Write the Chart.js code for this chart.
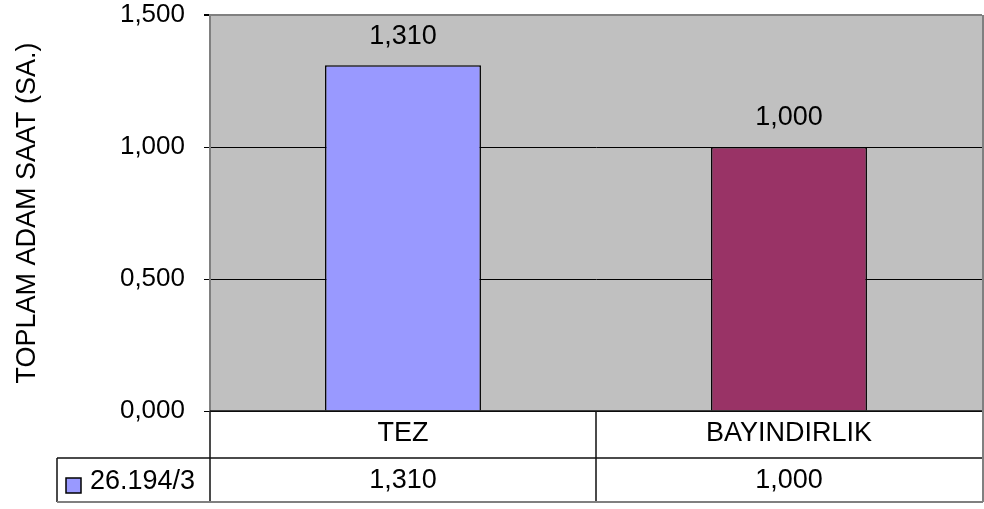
<!DOCTYPE html>
<html>
<head>
<meta charset="utf-8">
<script src="https://cdn.jsdelivr.net/npm/chart.js@4"></script>
<style>
  html, body { margin: 0; padding: 0; background: #ffffff; }
  canvas { display: block; }
</style>
</head>
<body>
<canvas id="c" width="984" height="509"></canvas>
<script>
// Categories and values
const categories = ['TEZ', 'BAYINDIRLIK'];
const seriesName = '26.194/3';
const hours = [1.31, 1.0];
const barColors = ['#9999FF', '#993366'];
const yTicks = [0, 0.5, 1.0, 1.5];
const yTitle = 'TOPLAM ADAM SAAT (SA.)';

const FONT = '"Liberation Sans", Arial, sans-serif';
const TEXT_SIZE = 27;
const fmt = v => v.toFixed(3).replace('.', ',');

// Value labels above bars
const valueLabels = {
  id: 'valueLabels',
  afterDatasetsDraw(chart) {
    const ctx = chart.ctx;
    const meta = chart.getDatasetMeta(0);
    ctx.save();
    ctx.font = TEXT_SIZE + 'px ' + FONT;
    ctx.fillStyle = '#000';
    ctx.textAlign = 'center';
    ctx.textBaseline = 'middle';
    meta.data.forEach((bar, i) => {
      ctx.fillText(fmt(hours[i]), bar.x, bar.y - 29);
    });
    ctx.restore();
  }
};

// Plot frame and data table below the chart area
const dataTable = {
  id: 'dataTable',
  beforeDatasetsDraw(chart) {
    const { ctx, chartArea: a } = chart;
    ctx.save();
    ctx.strokeStyle = '#808080';
    ctx.lineWidth = 2;
    ctx.beginPath();
    ctx.moveTo(a.right + 1, a.top);
    ctx.lineTo(a.right + 1, a.bottom);
    ctx.stroke();
    ctx.restore();
  },
  afterDraw(chart) {
    const { ctx, chartArea: a, scales } = chart;
    const x = scales.x;
    const row1Top = a.bottom, row1Bot = a.bottom + 47, row2Bot = a.bottom + 91;
    const legendLeft = 57;
    const colW = (a.right - a.left) / categories.length;
    ctx.save();
    ctx.lineWidth = 1.5;
    ctx.strokeStyle = '#111';
    ctx.beginPath();
    ctx.moveTo(a.left, row1Top); ctx.lineTo(a.right, row1Top);
    ctx.moveTo(legendLeft, row1Bot); ctx.lineTo(a.right, row1Bot);
    ctx.moveTo(a.left, row1Top); ctx.lineTo(a.left, row2Bot);
    ctx.moveTo(legendLeft, row1Bot); ctx.lineTo(legendLeft, row2Bot);
    for (let i = 1; i < categories.length; i++) {
      const xx = a.left + colW * i;
      ctx.moveTo(xx, row1Top); ctx.lineTo(xx, row2Bot);
    }
    ctx.stroke();
    ctx.strokeStyle = '#808080';
    ctx.lineWidth = 2;
    ctx.beginPath();
    ctx.moveTo(legendLeft, row2Bot); ctx.lineTo(a.right + 1, row2Bot);
    ctx.moveTo(a.right + 1, row1Top); ctx.lineTo(a.right + 1, row2Bot);
    ctx.stroke();

    ctx.font = TEXT_SIZE + 'px ' + FONT;
    ctx.fillStyle = '#000';
    ctx.textAlign = 'center';
    ctx.textBaseline = 'middle';
    categories.forEach((c, i) => {
      const cx = x.getPixelForValue(i);
      ctx.fillText(c, cx, (row1Top + row1Bot) / 2 - 1);
      ctx.fillText(fmt(hours[i]), cx, (row1Bot + row2Bot) / 2 + 1);
    });
    // legend key
    const ky = (row1Bot + row2Bot) / 2;
    ctx.fillStyle = barColors[0];
    ctx.fillRect(66, ky - 2, 15, 15);
    ctx.strokeStyle = '#000';
    ctx.lineWidth = 1.5;
    ctx.strokeRect(66, ky - 2, 15, 15);
    ctx.fillStyle = '#000';
    ctx.textAlign = 'left';
    ctx.fillText(seriesName, 90, ky + 2);
    ctx.restore();
  }
};

// Grey plot background
const plotBg = {
  id: 'plotBg',
  beforeDraw(chart) {
    const { ctx, chartArea: a } = chart;
    ctx.save();
    ctx.fillStyle = '#C0C0C0';
    ctx.fillRect(a.left, a.top, a.right - a.left, a.bottom - a.top);
    ctx.restore();
  }
};

new Chart(document.getElementById('c'), {
  type: 'bar',
  data: {
    labels: categories,
    datasets: [{
      label: seriesName,
      data: hours,
      backgroundColor: barColors,
      borderColor: '#000',
      borderWidth: 1.5,
      categoryPercentage: 1,
      barPercentage: 0.404
    }]
  },
  options: {
    responsive: false,
    animation: false,
    events: [],
    layout: { padding: { left: 0, top: 15, right: 2, bottom: 98 } },
    plugins: {
      legend: { display: false },
      tooltip: { enabled: false },
      title: { display: false }
    },
    scales: {
      x: {
        display: false,
        grid: { display: false }
      },
      y: {
        min: 0,
        max: 1.5,
        afterBuildTicks(scale) { scale.ticks = yTicks.map(v => ({ value: v })); },
        afterFit(scale) {
          scale.width = 210;
          scale.paddingTop = 0;
          scale.paddingBottom = 0;
        },
        ticks: {
          padding: 19,
          color: '#000',
          font: { family: FONT, size: 26 },
          callback: v => fmt(v)
        },
        grid: {
          color: ctx => (ctx.tick && ctx.tick.value === 1.5) ? '#808080' : '#000',
          lineWidth: ctx => (ctx.tick && ctx.tick.value === 1.5) ? 2 : 1,
          tickColor: '#000',
          tickLength: 6,
          drawTicks: true
        },
        border: { display: true, color: '#808080', width: 2 },
        title: {
          display: true,
          text: yTitle,
          color: '#000',
          font: { family: FONT, size: TEXT_SIZE },
          padding: { top: 11, bottom: 0 }
        }
      }
    }
  },
  plugins: [plotBg, valueLabels, dataTable]
});
</script>
</body>
</html>
